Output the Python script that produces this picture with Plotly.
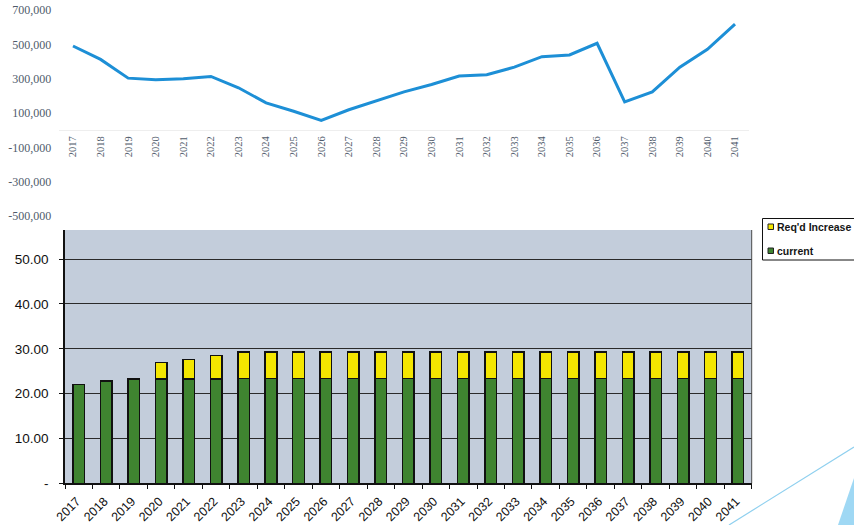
import plotly.graph_objects as go

# ---- data ----
years = [str(y) for y in range(2017, 2042)]

# projected balance (top chart)
balance = [490000, 412000, 303000, 293000, 299000, 313000, 247000, 159000,
           110000, 57000, 119000, 172000, 223000, 266000, 315000, 323000,
           367000, 428000, 438000, 506000, 165000, 223000, 367000, 471000,
           617000]
balance_ticks = [-500000, -300000, -100000, 100000, 300000, 500000, 700000]

# rate components (bottom chart)
current = [22.0, 22.8, 23.3, 23.3, 23.3, 23.3, 23.4, 23.4, 23.4, 23.4,
           23.4, 23.4, 23.4, 23.4, 23.4, 23.4, 23.4, 23.4, 23.4, 23.4,
           23.4, 23.4, 23.4, 23.4, 23.4]
increase = [0.0, 0.0, 0.0, 3.6, 4.3, 5.2, 5.9, 5.9, 5.9, 5.9,
            5.9, 5.9, 5.9, 5.9, 5.9, 5.9, 5.9, 5.9, 5.9, 5.9,
            5.9, 5.9, 5.9, 5.9, 5.9]
rate_ticks = [0, 10, 20, 30, 40, 50]
rate_tick_text = ["-", "10.00", "20.00", "30.00", "40.00", "50.00"]

GREEN = "#3f8430"
YELLOW = "#f4e600"
PANEL = "#c3cddb"

fig = go.Figure()

fig.add_trace(go.Scatter(
    x=years, y=balance, mode="lines",
    line=dict(color="#1d8fd6", width=3),
    xaxis="x", yaxis="y", showlegend=False,
))

fig.add_trace(go.Bar(
    x=years, y=current, name="current",
    marker=dict(color=GREEN, line=dict(color="#111111", width=1.5)),
    xaxis="x2", yaxis="y2", showlegend=False,
))
fig.add_trace(go.Bar(
    x=years, y=increase, name="Req'd Increase",
    marker=dict(color=YELLOW, line=dict(color="#111111", width=1.5)),
    xaxis="x2", yaxis="y2", showlegend=False,
))

W, H = 854, 525
top_lo, top_hi = -505000, 705000

serif_font = dict(family="Liberation Serif, DejaVu Serif, serif", size=12, color="#4f5b6b")
sans_font = dict(family="Liberation Sans, Arial, sans-serif", size=12.5, color="#101010")

# y position (paper) of the zero line in the top panel
top_dom = [1 - 216.9 / H, 1 - 9.1 / H]
zero_pos = top_dom[0] + (0 - top_lo) / (top_hi - top_lo) * (top_dom[1] - top_dom[0])

fig.update_layout(
    width=W, height=H,
    margin=dict(l=0, r=0, t=0, b=0),
    paper_bgcolor="white",
    plot_bgcolor="rgba(0,0,0,0)",
    barmode="stack",
    bargap=0.58,
    xaxis=dict(
        domain=[59.2 / W, 748.8 / W], type="category",
        range=[-0.5, len(years) - 0.5],
        anchor="free", position=zero_pos, automargin=False,
        tickangle=-90, tickfont=dict(serif_font, size=10.5),
        showgrid=False, showline=True, linecolor="#eeeeee", linewidth=1,
        ticks="", ticklabelstandoff=1,
    ),
    yaxis=dict(
        domain=top_dom, range=[top_lo, top_hi], anchor="x", automargin=False,
        tickvals=balance_ticks,
        ticktext=[f"{v:,}" for v in balance_ticks],
        tickfont=serif_font, showgrid=False, zeroline=False,
        showline=False, ticks="", ticklabelstandoff=7,
    ),
    xaxis2=dict(
        domain=[65 / W, 751.7 / W], type="category", anchor="y2",
        range=[-0.5, len(years) - 0.5], automargin=False,
        tickangle=-45, tickfont=sans_font,
        showgrid=False, showline=True, linecolor="#111111", linewidth=1.5,
        ticks="outside", tickson="boundaries", ticklen=4,
        tickcolor="#111111", tickwidth=1,
        ticklabelstandoff=4, ticklabelshift=-2,
    ),
    yaxis2=dict(
        domain=[1 - 483.3 / H, 1 - 230 / H], range=[0, 56.5], anchor="x2",
        automargin=False,
        tickvals=rate_ticks, ticktext=rate_tick_text, tickfont=dict(sans_font, size=13.5),
        showgrid=True, gridcolor="#2a2a2a", gridwidth=1, zeroline=False,
        showline=True, linecolor="#111111", linewidth=1.5,
        ticks="outside", ticklen=4, tickcolor="#111111",
        ticklabelstandoff=8,
    ),
)

shapes = [
    # shaded plot panel behind the bars
    dict(type="rect", xref="x2 domain", yref="y2 domain", x0=0, x1=1, y0=0, y1=1,
         fillcolor=PANEL, line=dict(width=0), layer="below"),
    # right frame edge of the panel
    dict(type="line", xref="x2 domain", yref="y2 domain", x0=1, x1=1, y0=0, y1=1,
         line=dict(color="#4a4a4a", width=1)),
    # legend box
    dict(type="rect", xref="paper", yref="paper",
         x0=762.5 / W, x1=870 / W, y0=1 - 260 / H, y1=1 - 218.5 / H,
         fillcolor="white", line=dict(color="#111111", width=1)),
    dict(type="rect", xref="paper", yref="paper",
         x0=768 / W, x1=773.5 / W, y0=1 - 229.5 / H, y1=1 - 224 / H,
         fillcolor=YELLOW, line=dict(color="#222222", width=1)),
    dict(type="rect", xref="paper", yref="paper",
         x0=768 / W, x1=773.5 / W, y0=1 - 253.5 / H, y1=1 - 248 / H,
         fillcolor=GREEN, line=dict(color="#222222", width=1)),
    # decorative page swoosh
    dict(type="line", xref="paper", yref="paper",
         x0=729 / W, y0=0, x1=1, y1=1 - 447 / H,
         line=dict(color="#8fd0ef", width=1.2)),
    dict(type="path", xref="paper", yref="paper",
         path=f"M {838 / W},0 L {854 / W},{1 - 478 / H} L 1,0 Z",
         fillcolor="#9fd8f4", line=dict(width=0)),
]
fig.update_layout(shapes=shapes)

legend_font = dict(family="Liberation Sans, Arial, sans-serif", size=10.5, color="#151515")
fig.add_annotation(x=774.5 / W, y=1 - 226.8 / H, xref="paper", yref="paper",
                   text="<b>Req'd Increase</b>", showarrow=False,
                   xanchor="left", yanchor="middle", font=legend_font)
fig.add_annotation(x=774.5 / W, y=1 - 250.8 / H, xref="paper", yref="paper",
                   text="<b>current</b>", showarrow=False,
                   xanchor="left", yanchor="middle", font=legend_font)

fig.write_html("out.html")
